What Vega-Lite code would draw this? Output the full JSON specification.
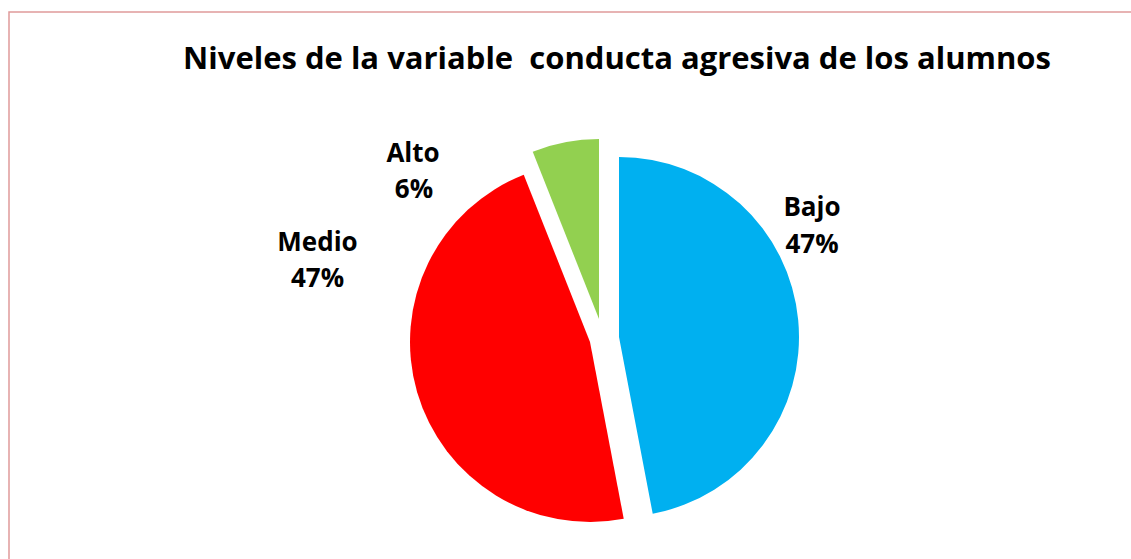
{
  "$schema": "https://vega.github.io/schema/vega-lite/v6.json",
  "autosize": "none",
  "width": 1125,
  "height": 550,
  "padding": {"left": 9, "top": 12, "right": -3, "bottom": -3},
  "background": "white",
  "view": {"stroke": "#E09A9A", "strokeWidth": 1.5, "fill": "white"},
  "title": {
    "text": "Niveles de la variable\u00a0 conducta agresiva de los alumnos",
    "font": "Open Sans",
    "fontSize": 31,
    "fontWeight": "bold",
    "color": "black",
    "anchor": "middle",
    "baseline": "alphabetic",
    "dx": 45.5,
    "dy": 92
  },
  "data": {
    "values": [
      {"nivel": "Bajo", "pct": 0.47, "orden": 1},
      {"nivel": "Medio", "pct": 0.47, "orden": 2},
      {"nivel": "Alto", "pct": 0.06, "orden": 3}
    ]
  },
  "transform": [
    {"stack": "pct", "groupby": [], "sort": [{"field": "orden", "order": "ascending"}], "as": ["ini", "fin"]}
  ],
  "layer": [
    {
      "transform": [{"filter": "datum.nivel === 'Bajo'"}],
      "layer": [
        {
          "mark": {"type": "arc", "radius": 180, "xOffset": 47.5, "yOffset": 50, "color": "#00B0F0"},
          "encoding": {
            "theta": {"field": "ini", "type": "quantitative", "scale": {"domain": [0, 1]}},
            "theta2": {"field": "fin"}
          }
        },
        {
          "mark": {"type": "text", "dx": 240.5, "dy": -71},
          "encoding": {"text": {"field": "nivel"}}
        },
        {
          "mark": {"type": "text", "dx": 240.5, "dy": -34},
          "encoding": {"text": {"field": "pct", "format": ".0%"}}
        }
      ]
    },
    {
      "transform": [{"filter": "datum.nivel === 'Medio'"}],
      "layer": [
        {
          "mark": {"type": "arc", "radius": 180, "xOffset": 18.5, "yOffset": 55, "color": "#FF0000"},
          "encoding": {
            "theta": {"field": "ini", "type": "quantitative", "scale": {"domain": [0, 1]}},
            "theta2": {"field": "fin"}
          }
        },
        {
          "mark": {"type": "text", "dx": -254, "dy": -36.3},
          "encoding": {"text": {"field": "nivel"}}
        },
        {
          "mark": {"type": "text", "dx": -254, "dy": -0.3},
          "encoding": {"text": {"field": "pct", "format": ".0%"}}
        }
      ]
    },
    {
      "transform": [{"filter": "datum.nivel === 'Alto'"}],
      "layer": [
        {
          "mark": {"type": "arc", "radius": 180, "xOffset": 27.5, "yOffset": 32, "color": "#92D050"},
          "encoding": {
            "theta": {"field": "ini", "type": "quantitative", "scale": {"domain": [0, 1]}},
            "theta2": {"field": "fin"}
          }
        },
        {
          "mark": {"type": "text", "dx": -158.5, "dy": -125.3},
          "encoding": {"text": {"field": "nivel"}}
        },
        {
          "mark": {"type": "text", "dx": -157.5, "dy": -89},
          "encoding": {"text": {"field": "pct", "format": ".0%"}}
        }
      ]
    }
  ],
  "config": {
    "view": {"stroke": "#E09A9A", "strokeWidth": 1.5},
    "text": {"font": "Open Sans", "fontSize": 26, "fontWeight": "bold", "color": "black", "align": "center", "baseline": "alphabetic"}
  }
}
